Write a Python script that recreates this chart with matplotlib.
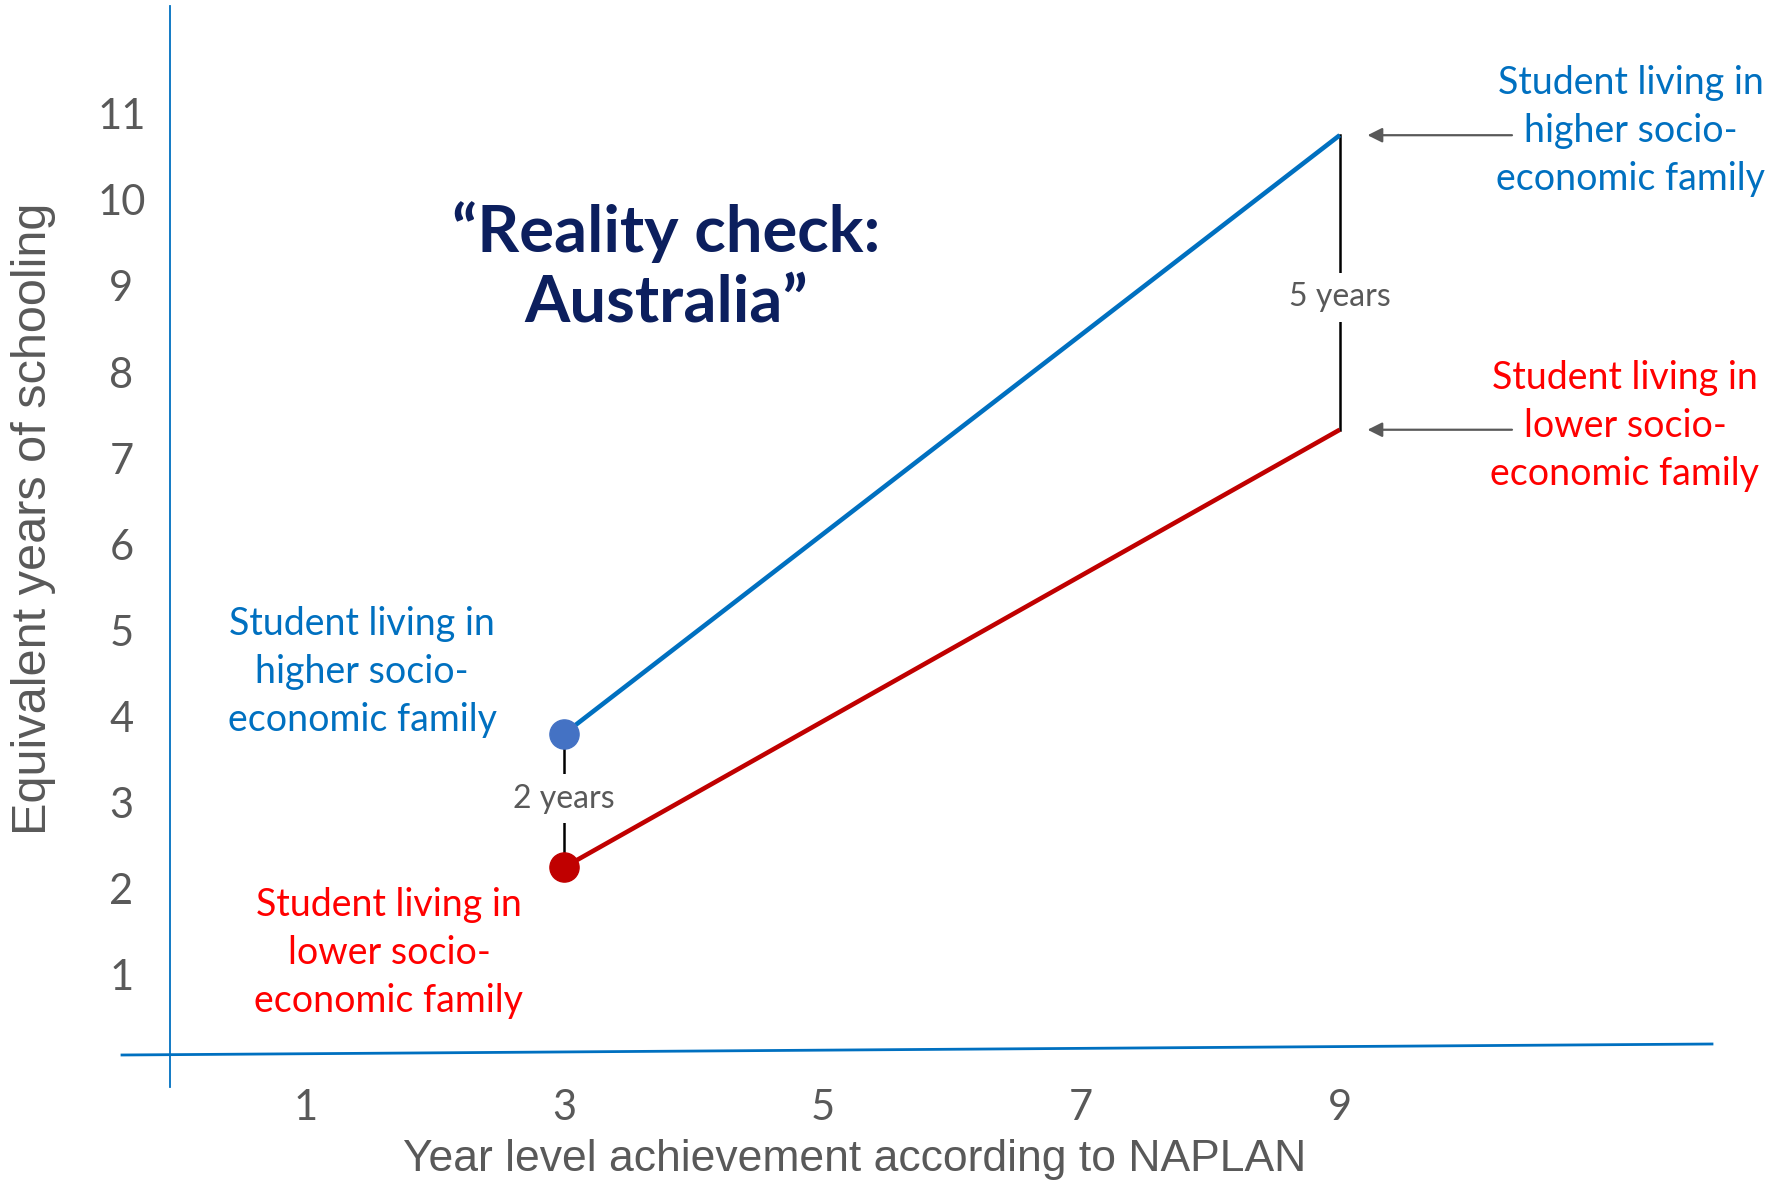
import matplotlib
matplotlib.use("Agg")
import matplotlib.pyplot as plt
from matplotlib.lines import Line2D

# ---- data ----
years_x = [3, 9]
higher_ses = [3.8, 10.75]
lower_ses = [2.25, 7.33]
x_ticks = [1, 3, 5, 7, 9]
y_ticks = [1, 2, 3, 4, 5, 6, 7, 8, 9, 10, 11]
gap_start_label = "2 years"
gap_end_label = "5 years"
label_high = "Student living in\nhigher socio-\neconomic family"
label_low = "Student living in\nlower socio-\neconomic family"
title = "\u201cReality check:\nAustralia\u201d"
xlabel = "Year level achievement according to NAPLAN"
ylabel = "Equivalent years of schooling"

BLUE = "#0070c0"
DOT_BLUE = "#4472c4"
RED_LINE = "#c00000"
RED_TXT = "#ff0000"
GRAY = "#595959"
NAVY = "#0c1f5e"

W, H = 1770, 1185
DPI = 100
FONT = ["Lato", "DejaVu Sans"]
NARROW = ["Liberation Sans Narrow", "Liberation Sans", "DejaVu Sans"]
plt.rcParams["font.family"] = FONT

fig = plt.figure(figsize=(W / DPI, H / DPI), dpi=DPI)

def fx(px):
    return px / W

def fy(py):
    return 1 - py / H

# axes placement (pixels)
ax_left, ax_right, ax_top, ax_bottom = 170, 1712, 0, 1061
ax = fig.add_axes([fx(ax_left), fy(ax_bottom), fx(ax_right - ax_left), (ax_bottom - ax_top) / H])
ax.set_xlim(-0.05, 11.88)
ax.set_ylim(0, 12.32)
for s in ax.spines.values():
    s.set_visible(False)
ax.patch.set_alpha(0)

ax.set_xticks(x_ticks)
ax.set_xticklabels([str(v) for v in x_ticks])
ax.set_yticks(y_ticks)
ax.set_yticklabels([str(v) for v in y_ticks])
ax.tick_params(axis="both", length=0, colors=GRAY, labelsize=30)
ax.tick_params(axis="x", pad=20)
for t in ax.get_yticklabels():
    t.set_horizontalalignment("center")
ax.yaxis.set_tick_params(pad=35)

# axis lines (drawn like the original hand-placed lines)
fig.add_artist(Line2D([fx(170), fx(170)], [fy(6), fy(1087)], color=BLUE, lw=1.3))
fig.add_artist(Line2D([fx(122), fx(1712)], [fy(1055), fy(1044)], color=BLUE, lw=2.0))

# series
ax.plot(years_x, higher_ses, color=BLUE, lw=3.3, solid_capstyle="butt", zorder=3)
ax.plot(years_x, lower_ses, color=RED_LINE, lw=3.3, solid_capstyle="butt", zorder=3)
ax.plot(years_x[0], higher_ses[0], "o", color=DOT_BLUE, ms=21, zorder=4)
ax.plot(years_x[0], lower_ses[0], "o", color=RED_LINE, ms=21, zorder=4)

# gap markers
for i, lab in ((0, gap_start_label), (1, gap_end_label)):
    x = years_x[i]
    ax.plot([x, x], [lower_ses[i], higher_ses[i]], color="black", lw=1.8, zorder=2)
    ax.text(x, (lower_ses[i] + higher_ses[i]) / 2 + (0.02 if i == 0 else -0.17), lab,
            ha="center", va="center", color=GRAY, fontsize=23,
            bbox=dict(facecolor="white", edgecolor="none", pad=7), zorder=2.5)

# arrows from right labels
for yv in (higher_ses[1], lower_ses[1]):
    ax.annotate("", xy=(years_x[1], yv), xytext=(124, 0), textcoords="offset points",
                arrowprops=dict(arrowstyle="-|>", color=GRAY, lw=1.6, shrinkA=0, shrinkB=20,
                                mutation_scale=22))

# labels
fs_lab = 27
ls_lab = 1.40
fig.text(fx(362), fy(672), label_high, color=BLUE, fontsize=fs_lab, ha="center", va="center",
         linespacing=ls_lab)
fig.text(fx(389), fy(953), label_low, color=RED_TXT, fontsize=fs_lab, ha="center", va="center",
         linespacing=ls_lab)
fig.text(fx(1631), fy(131), label_high, color=BLUE, fontsize=fs_lab, ha="center", va="center",
         linespacing=ls_lab)
fig.text(fx(1625), fy(426), label_low, color=RED_TXT, fontsize=fs_lab, ha="center", va="center",
         linespacing=ls_lab)

# title
fig.text(fx(666), fy(267), title, color=NAVY, fontsize=47, ha="center", va="center",
         linespacing=1.22, fontweight="bold")

# axis labels
fig.text(fx(34), fy(519), ylabel, color=GRAY, fontsize=35, rotation=90, ha="center", va="center",
         family=NARROW)
fig.text(fx(855), fy(1159), xlabel, color=GRAY, fontsize=32, ha="center", va="center",
         family=NARROW)

fig.savefig("out.png", dpi=DPI)
